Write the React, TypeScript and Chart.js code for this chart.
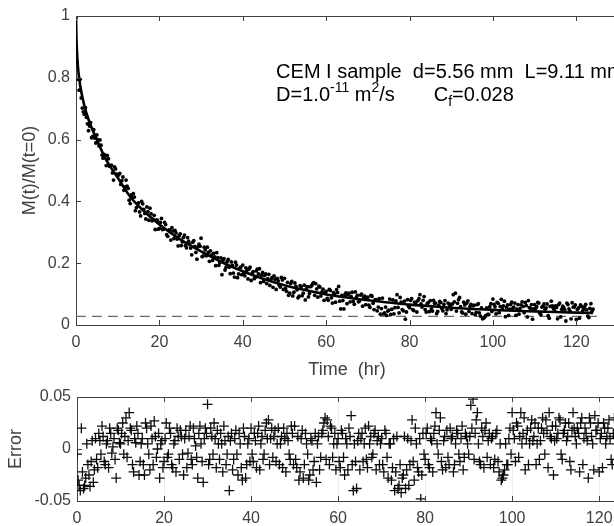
import React, { useEffect, useRef } from "react";
import { Chart, registerables } from "chart.js";

Chart.register(...registerables);

// ---------- data ----------
// Two interleaved runs of readings: run A at t = 0, 0.5, 1 ... h,
// run B at t = 0.25, 0.75, 1.25 ... h
const TIME_STEP_HR = 0.5;
const RUN_B_OFFSET_HR = 0.25;

// measured M(t)/M(t=0), run A
const MEASURED_A = [
  0.995, 0.795, 0.795, 0.702, 0.682, 0.672, 0.629, 0.655, 0.61, 0.605,
  0.615, 0.58, 0.582, 0.54, 0.548, 0.549, 0.514, 0.517, 0.469, 0.505,
  0.482, 0.491, 0.467, 0.436, 0.469, 0.442, 0.393, 0.413, 0.414, 0.38,
  0.395, 0.353, 0.392, 0.361, 0.382, 0.339, 0.36, 0.342, 0.309, 0.339,
  0.313, 0.345, 0.31, 0.325, 0.287, 0.308, 0.315, 0.28, 0.298, 0.256,
  0.295, 0.269, 0.291, 0.25, 0.271, 0.249, 0.268, 0.254, 0.213, 0.262,
  0.281, 0.224, 0.243, 0.252, 0.206, 0.226, 0.232, 0.192, 0.218, 0.202,
  0.163, 0.215, 0.187, 0.212, 0.166, 0.193, 0.155, 0.194, 0.165, 0.187,
  0.194, 0.159, 0.177, 0.181, 0.144, 0.173, 0.154, 0.181, 0.182, 0.161,
  0.141, 0.165, 0.15, 0.128, 0.153, 0.159, 0.115, 0.143, 0.123, 0.146,
  0.151, 0.109, 0.096, 0.134, 0.094, 0.136, 0.114, 0.093, 0.124, 0.103,
  0.081, 0.124, 0.102, 0.127, 0.137, 0.134, 0.09, 0.123, 0.107, 0.08,
  0.109, 0.08, 0.112, 0.071, 0.1, 0.114, 0.125, 0.052, 0.079, 0.098,
  0.069, 0.103, 0.092, 0.076, 0.107, 0.096, 0.078, 0.1, 0.089, 0.066,
  0.09, 0.057, 0.093, 0.05, 0.082, 0.058, 0.035, 0.087, 0.039, 0.031,
  0.048, 0.034, 0.081, 0.056, 0.098, 0.039, 0.074, 0.046, 0.019, 0.082,
  0.056, 0.085, 0.047, 0.072, 0.079, 0.098, 0.058, 0.092, 0.042, 0.073,
  0.079, 0.045, 0.07, 0.037, 0.064, 0.073, 0.046, 0.079, 0.049, 0.068,
  0.051, 0.098, 0.103, 0.07, 0.089, 0.042, 0.074, 0.035, 0.078, 0.06,
  0.037, 0.064, 0.041, 0.069, 0.029, 0.02, 0.025, 0.055, 0.034, 0.069,
  0.084, 0.059, 0.073, 0.04, 0.083, 0.062, 0.027, 0.065, 0.051, 0.074,
  0.058, 0.031, 0.066, 0.053, 0.075, 0.04, 0.063, 0.079, 0.054, 0.019,
  0.066, 0.059, 0.071, 0.033, 0.061, 0.051, 0.068, 0.022, 0.077, 0.054,
  0.062, 0.02, 0.071, 0.051, 0.056, 0.013, 0.066, 0.045, 0.072, 0.058,
  0.018, 0.055, 0.065, 0.045, 0.059, 0.049, 0.024, 0.069, 0.051,
];

// measured M(t)/M(t=0), run B
const MEASURED_B = [
  0.85, 0.76, 0.735, 0.69, 0.703, 0.651, 0.644, 0.606, 0.632, 0.589,
  0.6, 0.599, 0.55, 0.552, 0.516, 0.538, 0.514, 0.492, 0.512, 0.488,
  0.486, 0.455, 0.479, 0.447, 0.449, 0.404, 0.421, 0.425, 0.37, 0.393,
  0.366, 0.4, 0.374, 0.343, 0.367, 0.378, 0.337, 0.355, 0.339, 0.31,
  0.332, 0.309, 0.332, 0.292, 0.307, 0.275, 0.304, 0.306, 0.278, 0.289,
  0.257, 0.283, 0.257, 0.283, 0.262, 0.227, 0.273, 0.235, 0.253, 0.255,
  0.221, 0.252, 0.224, 0.235, 0.24, 0.209, 0.22, 0.234, 0.193, 0.217,
  0.209, 0.178, 0.205, 0.187, 0.204, 0.168, 0.203, 0.153, 0.183, 0.163,
  0.167, 0.185, 0.149, 0.187, 0.167, 0.15, 0.175, 0.165, 0.137, 0.17,
  0.16, 0.134, 0.164, 0.147, 0.122, 0.148, 0.151, 0.129, 0.154, 0.115,
  0.118, 0.138, 0.103, 0.141, 0.106, 0.125, 0.088, 0.127, 0.095, 0.129,
  0.117, 0.091, 0.124, 0.133, 0.096, 0.117, 0.126, 0.094, 0.116, 0.105,
  0.086, 0.115, 0.088, 0.105, 0.074, 0.105, 0.077, 0.096, 0.052, 0.104,
  0.098, 0.075, 0.106, 0.067, 0.089, 0.075, 0.097, 0.061, 0.093, 0.085,
  0.064, 0.096, 0.07, 0.082, 0.046, 0.085, 0.053, 0.036, 0.058, 0.045,
  0.084, 0.051, 0.036, 0.078, 0.057, 0.089, 0.05, 0.077, 0.042, 0.061,
  0.08, 0.05, 0.074, 0.042, 0.085, 0.068, 0.08, 0.05, 0.069, 0.043,
  0.052, 0.08, 0.071, 0.044, 0.076, 0.053, 0.067, 0.037, 0.071, 0.061,
  0.068, 0.075, 0.045, 0.082, 0.059, 0.039, 0.065, 0.071, 0.044, 0.067,
  0.062, 0.033, 0.066, 0.039, 0.055, 0.022, 0.03, 0.034, 0.059, 0.044,
  0.067, 0.036, 0.07, 0.06, 0.052, 0.077, 0.057, 0.031, 0.066, 0.054,
  0.071, 0.051, 0.035, 0.065, 0.06, 0.073, 0.026, 0.056, 0.066, 0.052,
  0.054, 0.073, 0.038, 0.058, 0.068, 0.055, 0.03, 0.06, 0.062, 0.047,
  0.057, 0.066, 0.026, 0.061, 0.049, 0.071, 0.052, 0.02, 0.058, 0.065,
  0.05, 0.022, 0.06, 0.051, 0.067, 0.029, 0.054, 0.044,
];

// residuals (measured - fit), run A
const ERRORS_A = [
  -0.005, -0.035, 0.02, -0.038, -0.028, -0.015, -0.036, 0.008, -0.02, -0.01,
  0.015, -0.005, 0.012, -0.015, 0.008, 0.02, -0.004, 0.01, -0.028, 0.018,
  0.005, 0.025, 0.012, -0.008, 0.035, 0.018, -0.022, 0.006, 0.015, -0.012,
  0.01, -0.025, 0.02, -0.005, 0.022, -0.015, 0.012, 0.0, -0.028, 0.008,
  -0.012, 0.025, -0.005, 0.015, -0.018, 0.008, 0.02, -0.01, 0.012, -0.025,
  0.018, -0.004, 0.022, -0.015, 0.01, -0.008, 0.015, 0.005, -0.032, 0.02,
  0.043, -0.01, 0.012, 0.025, -0.018, 0.005, 0.015, -0.022, 0.008, -0.005,
  -0.04, 0.015, -0.01, 0.018, -0.025, 0.005, -0.03, 0.012, -0.015, 0.01,
  0.02, -0.012, 0.008, 0.015, -0.02, 0.012, -0.005, 0.025, 0.028, 0.01,
  -0.008, 0.018, 0.005, -0.015, 0.012, 0.02, -0.022, 0.008, -0.01, 0.015,
  0.022, -0.018, -0.03, 0.01, -0.028, 0.015, -0.005, -0.025, 0.008, -0.012,
  -0.032, 0.012, -0.008, 0.018, 0.03, 0.028, -0.015, 0.02, 0.005, -0.02,
  0.01, -0.018, 0.015, -0.025, 0.005, 0.02, 0.032, -0.04, -0.012, 0.008,
  -0.02, 0.015, 0.005, -0.01, 0.022, 0.012, -0.005, 0.018, 0.008, -0.015,
  0.01, -0.022, 0.015, -0.028, 0.005, -0.018, -0.04, 0.012, -0.035, -0.042,
  -0.025, -0.038, 0.01, -0.015, 0.028, -0.03, 0.005, -0.022, -0.048, 0.015,
  -0.01, 0.02, -0.018, 0.008, 0.015, 0.035, -0.005, 0.03, -0.02, 0.012,
  0.018, -0.015, 0.01, -0.022, 0.005, 0.015, -0.012, 0.022, -0.008, 0.012,
  -0.005, 0.042, 0.048, 0.015, 0.035, -0.012, 0.02, -0.018, 0.025, 0.008,
  -0.015, 0.012, -0.01, 0.018, -0.022, -0.03, -0.025, 0.005, -0.015, 0.02,
  0.035, 0.01, 0.025, -0.008, 0.035, 0.015, -0.02, 0.018, 0.005, 0.028,
  0.012, -0.015, 0.02, 0.008, 0.03, -0.005, 0.018, 0.035, 0.01, -0.025,
  0.022, 0.015, 0.028, -0.01, 0.018, 0.008, 0.025, -0.02, 0.035, 0.012,
  0.02, -0.022, 0.03, 0.01, 0.015, -0.028, 0.025, 0.005, 0.032, 0.018,
  -0.022, 0.015, 0.025, 0.005, 0.02, 0.01, -0.015, 0.03, 0.012,
];

// residuals (measured - fit), run B
const ERRORS_B = [
  -0.03, -0.04, -0.022, -0.035, 0.005, -0.025, -0.012, -0.032, 0.01, -0.018,
  0.008, 0.022, -0.012, 0.005, -0.018, 0.015, 0.002, -0.01, 0.02, 0.006,
  0.015, -0.005, 0.03, 0.008, 0.02, -0.015, 0.01, 0.022, -0.025, 0.005,
  -0.015, 0.025, 0.005, -0.02, 0.01, 0.027, -0.008, 0.015, 0.005, -0.018,
  0.01, -0.008, 0.02, -0.015, 0.005, -0.022, 0.012, 0.018, -0.005, 0.01,
  -0.018, 0.012, -0.01, 0.02, 0.003, -0.028, 0.022, -0.012, 0.01, 0.015,
  -0.015, 0.02, -0.005, 0.01, 0.018, -0.01, 0.005, 0.022, -0.015, 0.012,
  0.008, -0.02, 0.01, -0.005, 0.015, -0.018, 0.02, -0.028, 0.005, -0.012,
  -0.005, 0.015, -0.018, 0.022, 0.005, -0.01, 0.018, 0.01, -0.015, 0.02,
  0.012, -0.012, 0.02, 0.005, -0.018, 0.01, 0.015, -0.005, 0.022, -0.015,
  -0.01, 0.012, -0.022, 0.018, -0.015, 0.005, -0.03, 0.01, -0.02, 0.015,
  0.005, -0.02, 0.015, 0.025, -0.01, 0.012, 0.022, -0.008, 0.015, 0.005,
  -0.012, 0.018, -0.008, 0.01, -0.02, 0.012, -0.015, 0.005, -0.038, 0.015,
  0.01, -0.012, 0.02, -0.018, 0.005, -0.008, 0.015, -0.02, 0.012, 0.005,
  -0.015, 0.018, -0.008, 0.005, -0.03, 0.01, -0.022, -0.038, -0.015, -0.028,
  0.012, -0.02, -0.035, 0.008, -0.012, 0.02, -0.018, 0.01, -0.025, -0.005,
  0.015, -0.015, 0.01, -0.022, 0.022, 0.005, 0.018, -0.012, 0.008, -0.018,
  -0.008, 0.02, 0.012, -0.015, 0.018, -0.005, 0.01, -0.02, 0.015, 0.005,
  0.012, 0.02, -0.01, 0.028, 0.005, -0.015, 0.012, 0.018, -0.008, 0.015,
  0.01, -0.018, 0.015, -0.012, 0.005, -0.028, -0.02, -0.015, 0.01, -0.005,
  0.018, -0.012, 0.022, 0.012, 0.005, 0.03, 0.01, -0.015, 0.02, 0.008,
  0.025, 0.005, -0.01, 0.02, 0.015, 0.028, -0.018, 0.012, 0.022, 0.008,
  0.01, 0.03, -0.005, 0.015, 0.025, 0.012, -0.012, 0.018, 0.02, 0.005,
  0.015, 0.025, -0.015, 0.02, 0.008, 0.03, 0.012, -0.02, 0.018, 0.025,
  0.01, -0.018, 0.02, 0.012, 0.028, -0.01, 0.015, 0.005,
];

// fitted model curve
const FIT_T = [0, 0.1, 0.25, 0.5, 1, 2, 3, 4, 5, 7, 10, 13, 16, 20, 25, 30, 35, 40, 45, 50, 55, 60, 65, 70, 75, 80, 85, 90, 95, 100, 105, 110, 115, 120, 124];
const FIT_M = [1.0, 0.93, 0.88, 0.83, 0.775, 0.71, 0.665, 0.63, 0.6, 0.54, 0.477, 0.415, 0.372, 0.325, 0.277, 0.238, 0.203, 0.174, 0.149, 0.129, 0.113, 0.099, 0.089, 0.08, 0.073, 0.066, 0.061, 0.056, 0.052, 0.049, 0.046, 0.044, 0.042, 0.04, 0.039];

// final concentration level (dashed line)
const CF_LEVEL = 0.028;
const CF_RANGE_HR = [0, 125];

// axes
const X_TICKS = [0, 20, 40, 60, 80, 100, 120];
const M_TICKS = [0, 0.2, 0.4, 0.6, 0.8, 1];
const ERR_TICKS = [-0.05, 0, 0.05];
const X_MAX_HR = 130;

// annotation text
const NOTE_LINE1 = "CEM I sample  d=5.56 mm  L=9.11 mm";
const NOTE_LINE2 = [
  { text: "D=1.0", kind: "n" },
  { text: "-11", kind: "sup" },
  { text: " m", kind: "n" },
  { text: "2", kind: "sup" },
  { text: "/s       C", kind: "n" },
  { text: "f", kind: "sub" },
  { text: "=0.028", kind: "n" },
];

// ---------- styling ----------
const FONT = '"Liberation Sans", Arial, Helvetica, sans-serif';
const AXIS_COLOR = "#404040";
const LABEL_COLOR = "#404040";

function framePlugin(tickLen: number) {
  return {
    id: "frame",
    afterDraw(chart: any) {
      const { ctx, chartArea: a, scales } = chart;
      ctx.save();
      ctx.strokeStyle = AXIS_COLOR;
      ctx.lineWidth = 1;
      ctx.beginPath();
      const top = Math.round(a.top) + 0.5;
      ctx.moveTo(a.left, top);
      ctx.lineTo(a.right, top);
      scales.x.ticks.forEach((t: any) => {
        const px = Math.round(scales.x.getPixelForValue(t.value)) + 0.5;
        ctx.moveTo(px, a.bottom);
        ctx.lineTo(px, a.bottom - tickLen);
        ctx.moveTo(px, a.top);
        ctx.lineTo(px, a.top + tickLen);
      });
      scales.y.ticks.forEach((t: any) => {
        const py = Math.round(scales.y.getPixelForValue(t.value)) + 0.5;
        ctx.moveTo(a.left, py);
        ctx.lineTo(a.left + tickLen, py);
      });
      ctx.stroke();
      ctx.restore();
    },
  };
}

const notePlugin = {
  id: "note",
  afterDraw(chart: any) {
    const { ctx, scales } = chart;
    const x0 = scales.x.getPixelForValue(48);
    const y1 = scales.y.getPixelForValue(0.8);
    const y2 = scales.y.getPixelForValue(0.724);
    ctx.save();
    ctx.fillStyle = "#000";
    ctx.textBaseline = "alphabetic";
    ctx.textAlign = "left";
    ctx.font = `20px ${FONT}`;
    ctx.fillText(NOTE_LINE1, x0, y1);
    let x = x0;
    NOTE_LINE2.forEach((p) => {
      const small = p.kind !== "n";
      ctx.font = `${small ? 14 : 20}px ${FONT}`;
      const dy = p.kind === "sup" ? -9 : p.kind === "sub" ? 5 : 0;
      ctx.fillText(p.text, x, y2 + dy);
      x += ctx.measureText(p.text).width;
    });
    ctx.restore();
  },
};

const tickFont = { family: FONT, size: 16 };
const titleFont = { family: FONT, size: 18 };

function readings(values: number[], offset: number) {
  return values.map((v, i) => ({ x: offset + i * TIME_STEP_HR, y: v }));
}

function topConfig(): any {
  const measured = readings(MEASURED_A, 0).concat(readings(MEASURED_B, RUN_B_OFFSET_HR));
  const fit = FIT_T.map((t, i) => ({ x: t, y: FIT_M[i] }));
  const cf = CF_RANGE_HR.map((t) => ({ x: t, y: CF_LEVEL }));
  return {
    type: "scatter",
    data: {
      datasets: [
        {
          type: "line",
          data: fit,
          borderColor: "#000",
          borderWidth: 2.6,
          pointRadius: 0,
          cubicInterpolationMode: "monotone",
          fill: false,
        },
        {
          type: "scatter",
          data: measured,
          pointRadius: 1.9,
          pointBackgroundColor: "#000",
          pointBorderWidth: 0,
        },
        {
          type: "line",
          data: cf,
          borderColor: "#6a6a6a",
          borderWidth: 1.3,
          borderDash: [10, 6],
          pointRadius: 0,
          fill: false,
        },
      ],
    },
    options: {
      animation: false,
      responsive: false,
      events: [],
      layout: { padding: { top: 16, left: 0, right: 0, bottom: 0 } },
      plugins: { legend: { display: false }, tooltip: { enabled: false } },
      scales: {
        x: {
          type: "linear",
          min: 0,
          max: X_MAX_HR,
          afterBuildTicks: (s: any) => {
            s.ticks = X_TICKS.map((v) => ({ value: v }));
          },
          afterFit: (s: any) => {
            s.height = 63;
          },
          grid: { display: false, drawTicks: false },
          border: { display: true, color: AXIS_COLOR, width: 1 },
          ticks: {
            padding: 8,
            color: LABEL_COLOR,
            font: tickFont,
            maxRotation: 0,
            autoSkip: false,
            callback: (v: any) => String(v),
          },
          title: {
            display: true,
            text: "Time  (hr)",
            color: LABEL_COLOR,
            font: titleFont,
            padding: { top: 0, bottom: 7 },
          },
        },
        y: {
          type: "linear",
          min: 0,
          max: 1,
          afterBuildTicks: (s: any) => {
            s.ticks = M_TICKS.map((v) => ({ value: v }));
          },
          afterFit: (s: any) => {
            s.width = 76;
          },
          grid: { display: false, drawTicks: false },
          border: { display: true, color: AXIS_COLOR, width: 1 },
          ticks: {
            padding: 6,
            color: LABEL_COLOR,
            font: tickFont,
            callback: (v: any) => String(v),
          },
          title: {
            display: true,
            text: "M(t)/M(t=0)",
            color: LABEL_COLOR,
            font: titleFont,
            padding: { top: 19, bottom: 0 },
          },
        },
      },
    },
    plugins: [framePlugin(5), notePlugin],
  };
}

function bottomConfig(): any {
  const errs = readings(ERRORS_A, 0).concat(readings(ERRORS_B, RUN_B_OFFSET_HR));
  return {
    type: "scatter",
    data: {
      datasets: [
        {
          data: errs,
          pointStyle: "cross",
          pointRadius: 5,
          pointBorderColor: "rgba(0,0,0,0.95)",
          pointBackgroundColor: "rgba(0,0,0,0)",
          pointBorderWidth: 1.3,
        },
      ],
    },
    options: {
      animation: false,
      responsive: false,
      events: [],
      layout: { padding: { top: 17, left: 0, right: 0, bottom: 0 } },
      plugins: { legend: { display: false }, tooltip: { enabled: false } },
      scales: {
        x: {
          type: "linear",
          min: 0,
          max: X_MAX_HR,
          afterBuildTicks: (s: any) => {
            s.ticks = X_TICKS.map((v) => ({ value: v }));
          },
          afterFit: (s: any) => {
            s.height = 25;
          },
          grid: { display: true, drawTicks: false, color: "#ebebeb", lineWidth: 1 },
          border: { display: true, color: AXIS_COLOR, width: 1 },
          ticks: {
            padding: 8,
            color: LABEL_COLOR,
            font: tickFont,
            maxRotation: 0,
            autoSkip: false,
            callback: (v: any) => String(v),
          },
        },
        y: {
          type: "linear",
          min: -0.05,
          max: 0.05,
          afterBuildTicks: (s: any) => {
            s.ticks = ERR_TICKS.map((v) => ({ value: v }));
          },
          afterFit: (s: any) => {
            s.width = 77;
          },
          grid: { display: false, drawTicks: false },
          border: { display: true, color: AXIS_COLOR, width: 1 },
          ticks: {
            padding: 6,
            color: LABEL_COLOR,
            font: tickFont,
            callback: (v: any) => String(v),
          },
          title: {
            display: true,
            text: "Error",
            color: LABEL_COLOR,
            font: titleFont,
            padding: { top: 5, bottom: 0 },
          },
        },
      },
    },
    plugins: [framePlugin(5)],
  };
}

export default function App() {
  const topRef = useRef<HTMLCanvasElement>(null);
  const botRef = useRef<HTMLCanvasElement>(null);
  useEffect(() => {
    const c1 = new Chart(topRef.current as HTMLCanvasElement, topConfig());
    const c2 = new Chart(botRef.current as HTMLCanvasElement, bottomConfig());
    return () => {
      c1.destroy();
      c2.destroy();
    };
  }, []);
  return (
    <div
      style={{
        position: "absolute",
        left: 0,
        top: 0,
        width: 614,
        height: 526,
        overflow: "hidden",
        background: "#fff",
      }}
    >
      <canvas
        ref={topRef}
        width={622}
        height={388}
        style={{ position: "absolute", left: 0, top: 0, width: 622, height: 388 }}
      />
      <canvas
        ref={botRef}
        width={649}
        height={146}
        style={{ position: "absolute", left: 0, top: 380, width: 649, height: 146 }}
      />
    </div>
  );
}
